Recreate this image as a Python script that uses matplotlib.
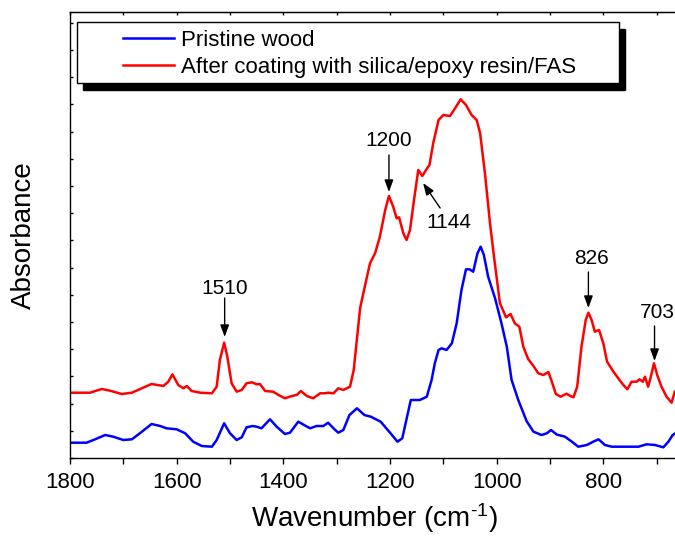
import numpy as np
import matplotlib
matplotlib.use("Agg")
import matplotlib.pyplot as plt
from matplotlib.patches import Rectangle
from matplotlib.ticker import MultipleLocator

plt.rcParams['font.family'] = ['Liberation Sans', 'DejaVu Sans']
plt.rcParams['mathtext.default'] = 'regular'

# wavenumber (cm-1) / absorbance (a.u.)
wn_pristine = [1800, 1769, 1756, 1734, 1719, 1700, 1684, 1669, 1647, 1631, 1619, 1600,
               1584, 1569, 1553, 1534, 1525, 1511, 1500, 1487.5, 1478, 1469, 1457.5,
               1450, 1441, 1425, 1412.5, 1397, 1387.5, 1372, 1350, 1337.5, 1325, 1316,
               1306, 1297, 1287.5, 1276, 1262, 1248, 1236, 1217.5, 1199, 1186, 1177,
               1161, 1144, 1131, 1122, 1116, 1109, 1103, 1094, 1084, 1075, 1066,
               1057.5, 1051, 1044, 1036, 1030, 1024, 1016, 1003, 991, 981, 972, 959.5,
               944, 931, 916, 906, 898, 887.5, 872, 859, 847, 831, 819, 809, 797, 784,
               734, 719, 703, 687.5, 678, 670, 664]
ab_pristine = [15.3, 15.3, 18, 23, 21.3, 18, 18.7, 24.7, 34, 32, 29.7, 28.7,
               24.7, 16.3, 12, 11.3, 18, 34.7, 24.7, 18, 20.7, 30.7, 32,
               31.3, 29.7, 38.7, 31.3, 24, 25.3, 36.3, 29.7, 32, 32, 35.3,
               29.7, 25.3, 28, 43, 49.7, 43, 41.3, 36.3, 24.7, 16.3, 19.7,
               58, 58, 61.3, 78, 94.7, 108, 109.7, 108, 114.7, 134.7, 168,
               188.7, 188.7, 186.3, 204.7, 211.3, 203, 181.3, 159.7, 134.7, 111.3, 78, 58,
               37, 26.3, 23, 24.7, 28, 23.5, 21.3, 16.3, 11.3, 13, 16.3, 18.7, 13, 11.3,
               11.3, 13.7, 13, 10.7, 16.3, 23, 25]

wn_coated = [1800, 1762.5, 1740.6, 1725, 1703, 1684, 1665.6, 1647, 1625, 1615.6, 1608,
             1597, 1587.5, 1581, 1572, 1556, 1534, 1525, 1519, 1511, 1505, 1497,
             1487.5, 1478, 1469, 1459, 1450, 1444, 1434, 1419, 1409, 1397, 1384, 1375,
             1367, 1356, 1344, 1331, 1322, 1316, 1306, 1297, 1287.5, 1275, 1268, 1256,
             1247, 1237.5, 1228, 1219, 1209, 1202, 1194, 1187.5, 1183, 1175, 1169,
             1162.5, 1155, 1147, 1139.5, 1132.5, 1126, 1119, 1109, 1100, 1087.5, 1078,
             1067.5, 1057.5, 1047, 1037.5, 1031, 1022, 1012.5, 1005, 998, 994, 982.5,
             974, 966, 957.5, 950, 941, 931, 922, 912.5, 903, 897, 889, 880, 869, 862,
             856, 849, 841, 833, 828, 822, 816, 808, 800, 793, 781, 772, 762.5, 755,
             747, 737.5, 732.5, 726, 722, 716, 711, 705, 699, 691, 681.5, 672, 666]
ab_coated = [65.3, 65.3, 69, 67.3, 64, 65.3, 69.7, 74, 72, 76.3, 83.7,
             73, 69.7, 72, 67, 65.3, 64.7, 71.3, 98, 115.3, 101.3, 74.7,
             66.3, 68, 74.7, 75.7, 73.7, 74, 67, 66.3, 63, 59.7, 62, 63,
             67, 62, 59.7, 64.7, 64.7, 65.3, 64.7, 69.7, 68, 71.3, 88, 150,
             172, 194.7, 204.7, 221.3, 248, 262, 251.3, 239.7, 240.7, 224.7, 218,
             228, 258, 288, 282, 288, 293, 314.7, 338, 343, 342, 349.7,
             358.7, 353, 343, 338, 324.7, 284.7, 234.7, 201.3, 172, 155, 140.7,
             144, 134.7, 131.3, 111.3, 99, 92, 84.7, 83, 86, 77, 64, 61.3, 64.3, 62,
             60.7, 71.3, 111.3, 138, 145.3, 138, 126.3, 128, 114.7, 96.3, 86.3, 79.7, 73, 68.7,
             76.3, 76.3, 78.7, 76.3, 81.3, 71.3, 81.3, 94.7, 83, 71.3, 61.3, 55.3, 66.3]

# peak labels: text, arrow tail, arrow head
peak_labels = ['1510', '1200', '1144', '826', '703']
label_xy = [(1510, 170), (1202, 318), (1090, 236), (822, 199), (699, 146)]
arrow_from = [(1510, 160), (1202, 303), (1106, 250), (828, 186), (704, 132)]
arrow_to = [(1510, 121), (1202, 266), (1138, 275), (828, 150), (704, 97)]

W, H = 675, 545
fig = plt.figure(figsize=(W / 100, H / 100), dpi=100)
ax = fig.add_axes([70 / W, 87 / H, 608 / W, 446 / H])

l1, = ax.plot(wn_pristine, ab_pristine, color='#0000ff', lw=1.8, label='Pristine wood',
              solid_joinstyle='round')
l2, = ax.plot(wn_coated, ab_coated, color='#ff0000', lw=1.8,
              label='After coating with silica/epoxy resin/FAS', solid_joinstyle='round')

for lab, txy, a0, a1 in zip(peak_labels, label_xy, arrow_from, arrow_to):
    ax.text(txy[0], txy[1], lab, fontsize=15, ha='center', va='center', clip_on=False)
    ax.annotate('', xy=a1, xytext=a0,
                arrowprops=dict(arrowstyle='-|>,head_length=0.6,head_width=0.22',
                                color='k', lw=1, mutation_scale=12,
                                shrinkA=0, shrinkB=0))

ax.set_xlim(1800, 660)
ax.set_ylim(0, 446)
ax.xaxis.set_major_locator(MultipleLocator(200))
ax.xaxis.set_minor_locator(MultipleLocator(100))
ax.yaxis.set_major_locator(MultipleLocator(27.2))
ax.set_yticklabels([])
ax.tick_params(axis='x', which='both', direction='out', length=4, width=1,
               labelsize=16, pad=6, top=False)
ax.tick_params(axis='y', which='both', direction='in', length=2.5, width=1,
               right=False)
ax.spines['right'].set_visible(False)
for s in ['left', 'top', 'bottom']:
    ax.spines[s].set_linewidth(1)

# inward ticks along the top spine
ax2 = ax.secondary_xaxis('top')
ax2.xaxis.set_major_locator(MultipleLocator(100))
ax2.tick_params(direction='in', length=2.5, width=1, labeltop=False)

ax.set_xlabel('Wavenumber (cm$^{\u20101}$)', fontsize=20, labelpad=6)
ax.set_ylabel('Absorbance', fontsize=20, labelpad=20)

# legend box with solid black shadow
fig.add_artist(Rectangle(((77 + 6) / W, (H - 83 - 7) / H), 542 / W, 61 / H,
                         transform=fig.transFigure, facecolor='k', edgecolor='k',
                         zorder=3))
fig.add_artist(Rectangle((77 / W, (H - 83) / H), 542 / W, 61 / H,
                         transform=fig.transFigure, facecolor='w', edgecolor='k',
                         lw=1, zorder=4))
fig.legend(handles=[l1, l2], loc='upper left', bbox_to_anchor=(123 / W, 1 - 30 / H),
           frameon=False, fontsize=16, borderpad=0, borderaxespad=0,
           handlelength=2.3, handletextpad=0.3, labelspacing=0.28)

fig.savefig('out.png', dpi=100)
